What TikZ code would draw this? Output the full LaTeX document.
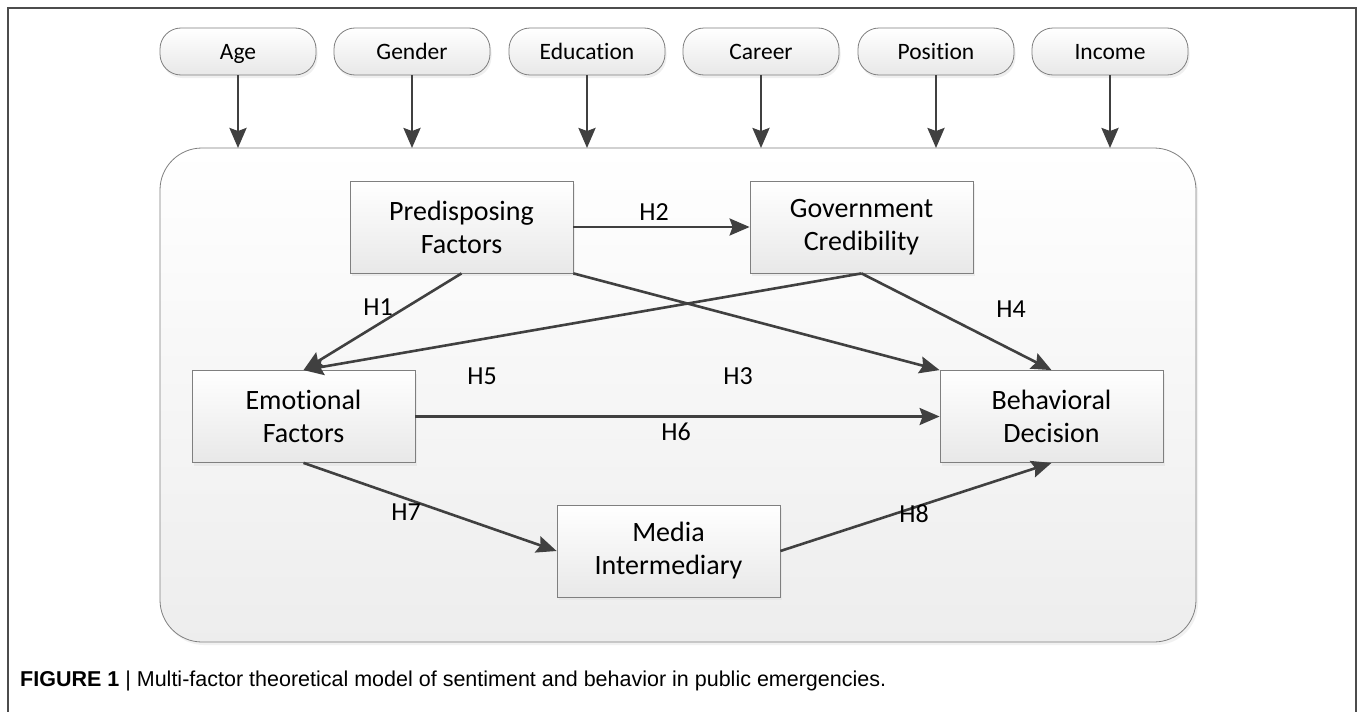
\documentclass[tikz,border=0pt]{standalone}
\usepackage{fontspec}
\setmainfont{Carlito}[Ligatures=NoCommon]
\newfontfamily\capfont{Liberation Sans}
\usetikzlibrary{arrows.meta,shadows}
\definecolor{arr}{HTML}{404040}
\definecolor{edge}{HTML}{7F7F7F}
\tikzset{
  pill/.style={draw=edge, line width=0.8pt, rounded corners=21pt, minimum width=156pt, minimum height=47pt,
    top color=white, bottom color=black!9, drop shadow={shadow xshift=1.5pt, shadow yshift=-3pt, fill=black!12},
    font=\fontsize{23.5}{28}\selectfont, inner sep=0pt, text height=15pt, text depth=0pt},
  factor/.style={draw=edge, line width=0.8pt, minimum width=223pt, minimum height=92pt, align=center,
    top color=white, bottom color=black!9, drop shadow={shadow xshift=2pt, shadow yshift=-3pt, fill=black!12},
    font=\fontsize{28}{33}\selectfont, inner sep=0pt},
  link/.style={draw=arr, line width=2.6pt, -{Stealth[length=20pt,width=17pt,inset=3pt]}},
  hlab/.style={font=\fontsize{26}{30}\selectfont, inner sep=0pt},
}
\begin{document}
\begin{tikzpicture}[x=1pt,y=-1pt]
\useasboundingbox (0,0) rectangle (1358,712);
\fill[white] (0,0) rectangle (1358,712);
% outer frame (open at bottom)
\draw[black!70, line width=1.6pt] (8,712) -- (8,8) -- (1356,8) -- (1356,712);
% big container
\path[draw=edge, line width=0.8pt, rounded corners=42pt, top color=white, bottom color=black!7,
  drop shadow={shadow xshift=2pt, shadow yshift=-3pt, fill=black!10}]
  (160,148) rectangle (1196,642);
\coordinate (tAge) at (238,148);
\coordinate (tGen) at (412,148);
\coordinate (tEdu) at (587,148);
\coordinate (tCar) at (761,148);
\coordinate (tPos) at (936,148);
\coordinate (tInc) at (1110,148);
% top pills
\node[pill] (age) at (238,51.5) {Age};
\node[pill] (gen) at (412,51.5) {Gender};
\node[pill] (edu) at (587,51.5) {Education};
\node[pill] (car) at (761,51.5) {Career};
\node[pill] (pos) at (936,51.5) {Position};
\node[pill] (inc) at (1110,51.5) {Income};
\draw[link] (age.south) -- (tAge);
\draw[link] (gen.south) -- (tGen);
\draw[link] (edu.south) -- (tEdu);
\draw[link] (car.south) -- (tCar);
\draw[link] (pos.south) -- (tPos);
\draw[link] (inc.south) -- (tInc);
% factor boxes
\node[factor] (pre) at (461.5,227) {Predisposing\\Factors};
\node[factor] (gov) at (861.5,227) {Government\\Credibility};
\node[factor] (emo) at (303.5,416.5) {Emotional\\Factors};
\node[factor] (beh) at (1051.5,416.5) {Behavioral\\Decision};
\node[factor] (med) at (668.5,551) {Media\\Intermediary};
% links
\draw[link] (pre.east) -- (gov.west);
\draw[link] (pre.south) -- (emo.north);
\draw[link] (pre.south east) -- (beh.north west);
\draw[link] (gov.south) -- (beh.north);
\draw[link] (gov.south) -- (emo.north);
\draw[link] (emo.east) -- (beh.west);
\draw[link] (emo.south) -- (med.west);
\draw[link] (med.east) -- (beh.south);
% labels
\node[hlab] (h1) at (378,307) {H1};
\node[hlab] (h2) at (654,212) {H2};
\node[hlab] (h3) at (738,376) {H3};
\node[hlab] (h4) at (1011,309) {H4};
\node[hlab] (h5) at (482,376) {H5};
\node[hlab] (h6) at (676,432) {H6};
\node[hlab] (h7) at (406,512) {H7};
\node[hlab] (h8) at (914,514) {H8};
% caption
\node[anchor=base west, inner sep=0pt, font=\capfont\fontsize{21.5}{24}\selectfont] (cap) at (20,686)
  {\textbf{FIGURE 1} | Multi-factor theoretical model of sentiment and behavior in public emergencies.};
\end{tikzpicture}
\end{document}
